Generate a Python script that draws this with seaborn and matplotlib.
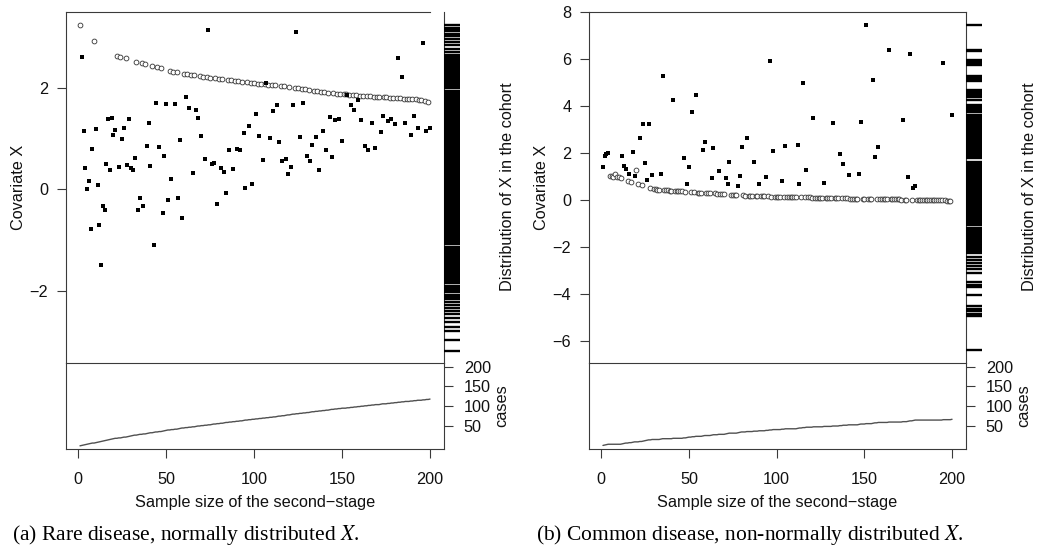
import numpy as np
import matplotlib
matplotlib.use('Agg')
import matplotlib.pyplot as plt
import seaborn as sns

sns.set_theme(style='ticks')
plt.rcParams['font.family'] = ['Liberation Sans', 'DejaVu Sans']
plt.rcParams['mathtext.fontset'] = 'stix'

# ── data: (a) rare disease ──────────────────────────
a_case_x = [2, 3, 4, 5, 6, 7, 8, 10, 11, 12, 13, 14, 15, 16, 17, 18, 19, 20, 21, 23,
            25, 26, 28, 29, 30, 31, 32, 34, 35, 37, 39, 40, 41, 43, 44, 46, 48, 49, 50, 51,
            53, 55, 57, 58, 59, 61, 63, 65, 67, 68, 70, 72, 74, 76, 77, 79, 81, 83, 84, 86,
            88, 90, 92, 94, 95, 97, 99, 101, 103, 105, 107, 109, 111, 113, 114, 116, 118, 119, 121, 122,
            124, 126, 128, 130, 132, 133, 135, 137, 139, 141, 143, 144, 146, 148, 150, 153, 155, 157, 159, 161,
            163, 165, 167, 169, 172, 173, 176, 178, 180, 182, 184, 186, 189, 191, 193, 196, 198, 200]
a_case_y = [2.62, 1.15, 0.42, 0.00, 0.17, -0.79, 0.79, 1.19, 0.09, -0.71, -1.50, -0.34, -0.40, 0.50, 1.38, 0.38, 1.41, 1.08, 1.17, 0.44,
            1.00, 1.21, 0.48, 1.38, 0.42, 0.38, 0.61, -0.40, -0.17, -0.34, 0.86, 1.30, 0.46, -1.11, 1.71, 0.83, -0.46, 0.65, 1.68, -0.21,
            0.21, 1.69, -0.17, 0.97, -0.57, 1.83, 1.60, 0.32, 1.56, 1.40, 1.06, 0.59, 3.15, 0.50, 0.52, -0.30, 0.42, 0.35, -0.07, 0.77,
            0.40, 0.80, 0.78, 1.12, 0.03, 1.25, 0.10, 1.49, 1.05, 0.57, 2.09, 1.01, 1.54, 1.66, 0.94, 0.56, 0.59, 0.30, 0.43, 1.67,
            3.11, 1.03, 1.70, 0.65, 0.56, 0.88, 1.04, 0.39, 1.16, 0.77, 1.43, 0.63, 1.37, 1.39, 0.96, 1.87, 1.66, 1.56, 1.76, 1.37,
            0.86, 0.78, 1.30, 0.81, 1.13, 1.45, 1.35, 1.39, 1.29, 2.59, 2.22, 1.30, 1.07, 1.45, 1.21, 2.89, 1.16, 1.21]
# open circles: every step that is not a case, in order
a_ctrl_y = [3.24, 2.92, 2.64, 2.62, 2.60, 2.52, 2.49, 2.47, 2.44, 2.41, 2.39, 2.34, 2.32, 2.31, 2.28,
            2.27, 2.26, 2.25, 2.23, 2.22, 2.21, 2.20, 2.19, 2.18, 2.17,
            2.16, 2.15, 2.14, 2.13, 2.12, 2.11, 2.10, 2.09, 2.08, 2.08,
            2.07, 2.06, 2.06, 2.05, 2.04, 2.03, 2.02, 2.00, 1.99, 1.98,
            1.97, 1.96, 1.95, 1.94, 1.93, 1.92, 1.91, 1.90, 1.89, 1.89,
            1.88, 1.88, 1.87, 1.86, 1.86, 1.85, 1.85, 1.84, 1.84, 1.83,
            1.83, 1.83, 1.82, 1.82, 1.81, 1.81, 1.80, 1.80, 1.79, 1.79,
            1.79, 1.78, 1.78, 1.77, 1.76, 1.75, 1.73]
a_cohort = [3.25, 3.19, 3.16, 3.12, 3.06, 3.02, 2.97, 2.91, 2.85, 2.76, 2.71, 2.66, 2.64, 2.61, 2.58,
            2.54, 2.49, 2.46, 2.41, 2.38, 2.34, 2.31, 2.28, 2.24, 2.21, 2.18, 2.13, 2.10, 2.06, 2.03,
            1.99, 1.95, 1.92, 1.88, 1.85, 1.81, 1.78, 1.75, 1.71, 1.67, 1.64, 1.61, 1.57, 1.53, 1.50,
            1.47, 1.43, 1.40, 1.36, 1.32, 1.29, 1.26, 1.22, 1.19, 1.15, 1.11, 1.08, 1.05, 1.01, 0.98,
            0.94, 0.90, 0.87, 0.84, 0.80, 0.77, 0.73, 0.69, 0.66, 0.63, 0.59, 0.56, 0.52, 0.48, 0.45,
            0.42, 0.38, 0.35, 0.31, 0.27, 0.24, 0.21, 0.17, 0.14, 0.10, 0.06, 0.03, 0.00, -0.04, -0.08,
            -0.11, -0.14, -0.18, -0.21, -0.25, -0.29, -0.32, -0.35, -0.39, -0.42, -0.46, -0.50, -0.53, -0.56, -0.60,
            -0.63, -0.67, -0.71, -0.74, -0.77, -0.81, -0.84, -0.88, -0.92, -0.95, -0.98, -1.02, -1.05, -1.09, -1.13,
            -1.16, -1.19, -1.23, -1.26, -1.30, -1.34, -1.37, -1.40, -1.44, -1.47, -1.51, -1.55, -1.58, -1.62, -1.66,
            -1.70, -1.73, -1.77, -1.81, -1.86, -1.90, -1.94, -1.99, -2.03, -2.08, -2.13, -2.17, -2.23, -2.28, -2.34,
            -2.40, -2.47, -2.55, -2.63, -2.72, -2.80, -2.97, -3.19]

# ── data: (b) common disease ──────────────────────────
b_case_x = [1, 2, 3, 4, 12, 13, 14, 16, 18, 19, 22, 24, 25, 26, 27, 29, 34, 35, 41, 47,
            49, 50, 52, 54, 58, 59, 63, 64, 67, 71, 72, 73, 78, 79, 80, 83, 87, 90, 94, 96,
            98, 103, 105, 112, 113, 115, 117, 121, 127, 132, 136, 138, 141, 147, 148, 151, 155, 156, 158, 164,
            172, 175, 176, 178, 179, 195, 200]
b_case_y = [1.40, 1.87, 1.94, 2.00, 1.88, 1.46, 1.33, 1.13, 2.03, 1.03, 2.65, 3.24, 1.57, 0.85, 3.23, 1.08, 1.10, 5.26, 4.26, 1.78,
            0.68, 1.40, 3.73, 4.46, 2.12, 2.45, 0.93, 2.20, 1.23, 0.92, 0.68, 1.63, 0.62, 1.02, 2.24, 2.65, 1.62, 0.68, 0.98, 5.91,
            2.10, 0.81, 2.29, 2.33, 0.67, 4.99, 1.27, 3.47, 0.71, 3.27, 1.94, 1.54, 1.05, 1.09, 3.34, 7.44, 5.11, 1.84, 2.27, 6.40,
            3.39, 0.99, 6.20, 0.51, 0.58, 5.82, 3.64]
b_ctrl_y = [1.03, 1.02, 1.00, 1.09, 0.99, 0.97, 0.94, 0.82, 0.77, 1.30, 0.70, 0.63, 0.50,
            0.47, 0.45, 0.44, 0.43, 0.42, 0.41, 0.41, 0.40, 0.40, 0.39, 0.39, 0.38, 0.38, 0.37,
            0.36, 0.34, 0.33, 0.32, 0.32, 0.31, 0.30, 0.30, 0.29, 0.28, 0.27, 0.25, 0.25, 0.24,
            0.22, 0.22, 0.21, 0.21, 0.20, 0.19, 0.19, 0.18, 0.18, 0.18, 0.17, 0.17, 0.16, 0.16,
            0.16, 0.15, 0.15, 0.15, 0.14, 0.14, 0.14, 0.13, 0.13, 0.13, 0.12, 0.12, 0.12, 0.12,
            0.11, 0.11, 0.11, 0.10, 0.10, 0.10, 0.10, 0.09, 0.09, 0.09, 0.09, 0.08, 0.08, 0.08,
            0.08, 0.07, 0.07, 0.07, 0.07, 0.06, 0.06, 0.06, 0.06, 0.06, 0.05, 0.05, 0.05, 0.05,
            0.05, 0.04, 0.04, 0.04, 0.04, 0.04, 0.03, 0.03, 0.03, 0.03, 0.03, 0.03, 0.03, 0.02,
            0.02, 0.02, 0.02, 0.02, 0.02, 0.01, 0.01, 0.01, 0.01, 0.01, 0.00, 0.00, 0.00, 0.00,
            0.00, -0.01, -0.01, -0.01, -0.01, -0.02, -0.02, -0.02]
b_cohort = [7.44, 6.40, 6.33, 5.95, 5.88, 5.81, 5.74, 5.27, 5.21, 5.13, 5.07, 4.67, 4.60, 4.52, 4.45,
            4.38, 4.25, 4.04, 3.97, 3.90, 3.82, 3.75, 3.61, 3.55, 3.48, 3.40, 3.33, 3.27, 3.21, 3.15,
            3.08, 3.02, 2.96, 2.90, 2.84, 2.77, 2.71, 2.65, 2.59, 2.52, 2.46, 2.40, 2.34, 2.27, 2.21,
            2.15, 2.09, 2.02, 1.96, 1.90, 1.84, 1.78, 1.64, 1.58, 1.52, 1.46, 1.40, 1.33, 1.27, 1.21,
            1.15, 1.08, 1.02, 0.96, 0.90, 0.84, 0.77, 0.71, 0.65, 0.59, 0.52, 0.46, 0.40, 0.34, 0.27,
            0.21, 0.15, 0.09, 0.02, -0.04, -0.10, -0.16, -0.23, -0.29, -0.35, -0.41, -0.48, -0.54, -0.60, -0.66,
            -0.73, -0.79, -0.85, -0.92, -1.02, -1.08, -1.18, -1.26, -1.35, -1.44, -1.52, -1.63, -1.70, -1.76, -1.82,
            -1.88, -1.95, -2.02, -2.10, -2.18, -2.27, -2.40, -2.55, -2.68, -2.80, -2.95, -3.10, -3.50, -3.62, -3.70,
            -4.04, -4.52, -4.62, -4.72, -4.83, -4.95, -6.37]

steps = np.arange(1, 201)

W, H = 1039, 550
fig = plt.figure(figsize=(W / 100, H / 100), dpi=100)
LC = '#3a3a3a'


def box(l, t, r, b):
    return [l / W, 1 - b / H, (r - l) / W, (b - t) / H]


def minus(v):
    return f'{v}'.replace('-', '\u2212')


def panel(x0, x1, case_x, case_y, ctrl_y, cohort, yticks, ylim, caption, cap_x, top_to):
    ctrl_x = [k for k in steps if k not in case_x]
    assert len(ctrl_x) == len(ctrl_y) and len(case_x) == len(case_y)
    cases = [sum(1 for c in case_x if c <= k) for k in steps]
    xlim = (-6.96, 207.96)

    # top: covariate values
    ax = fig.add_axes(box(x0, 12, x1, 363))
    sns.scatterplot(x=ctrl_x, y=ctrl_y, marker='o', s=12, facecolor='white',
                    edgecolor='#333333', linewidth=0.6, ax=ax, zorder=2)
    sns.scatterplot(x=case_x, y=case_y, marker='s', s=9, color='black',
                    linewidth=0, ax=ax, zorder=3)
    ax.set_xlim(xlim)
    ax.set_ylim(ylim)
    ax.set_xticks([])
    ax.set_yticks(yticks)
    ax.set_yticklabels([minus(v) for v in yticks])
    ax.spines['bottom'].set_visible(False)
    ax.spines['top'].set_bounds(xlim[0], top_to)
    for s in ax.spines.values():
        s.set_color(LC)
        s.set_linewidth(0.8)

    # rug: distribution of X in the cohort
    rx = fig.add_axes(box(x1, 12, x1 + 16, 363))
    sns.rugplot(y=cohort, height=1, ax=rx, color='black', linewidth=1.7,
                expand_margins=False)
    rx.set_ylim(ylim)
    rx.set_xlim(0, 1)
    rx.set_xticks([])
    rx.set_yticks([])
    rx.set_xlabel('')
    rx.set_ylabel('')
    for s in rx.spines.values():
        s.set_visible(False)
    rx.patch.set_alpha(0)

    # bottom: cumulative cases
    bx = fig.add_axes(box(x0, 363, x1, 449))
    sns.lineplot(x=steps, y=cases, ax=bx, color='#505050', linewidth=1.0)
    bx.set_xlim(xlim)
    bx.set_ylim(-8, 209)
    bx.set_xticks([0, 50, 100, 150, 200])
    bx.yaxis.tick_right()
    bx.set_yticks([50, 100, 150, 200])
    bx.set_xlabel('')
    bx.set_ylabel('')
    for s in bx.spines.values():
        s.set_color(LC)
        s.set_linewidth(0.8)

    for a in (ax, bx):
        a.tick_params(direction='out', length=6.2, width=0.8, color=LC,
                      labelsize=11.7, labelcolor='#111111')
    ax.tick_params(axis='y', pad=6.5)
    bx.tick_params(axis='y', pad=8)
    bx.tick_params(axis='x', pad=10)

    cx = (x0 + x1) / 2
    fig.text((x0 - 47) / W, 1 - 187 / H, 'Covariate X', rotation=90,
             ha='center', va='center', fontsize=11.7, color='#111111')
    fig.text((x1 + 63) / W, 1 - 187 / H, 'Distribution of X in the cohort', rotation=90,
             ha='center', va='center', fontsize=11.7, color='#111111')
    fig.text((x1 + 58) / W, 1 - 406 / H, 'cases', rotation=90,
             ha='center', va='center', fontsize=11.7, color='#111111')
    fig.text(cx / W, 1 - 503 / H, 'Sample size of the second\u2212stage',
             ha='center', va='center', fontsize=11.7, color='#111111')
    fig.text(cap_x / W, 1 - 535 / H, caption, ha='left', va='center',
             fontsize=15.5, family='Liberation Serif', color='black')


panel(66, 444, a_case_x, a_case_y, a_ctrl_y, a_cohort, [-2, 0, 2], (-3.43, 3.50),
      '(a) Rare disease, normally distributed $X$.', 12, 200)
panel(589, 966, b_case_x, b_case_y, b_ctrl_y, b_cohort, [-6, -4, -2, 0, 2, 4, 6, 8],
      (-6.93, 8.0), '(b) Common disease, non-normally distributed $X$.', 536, 207.96)

fig.savefig('out.png', dpi=100)
